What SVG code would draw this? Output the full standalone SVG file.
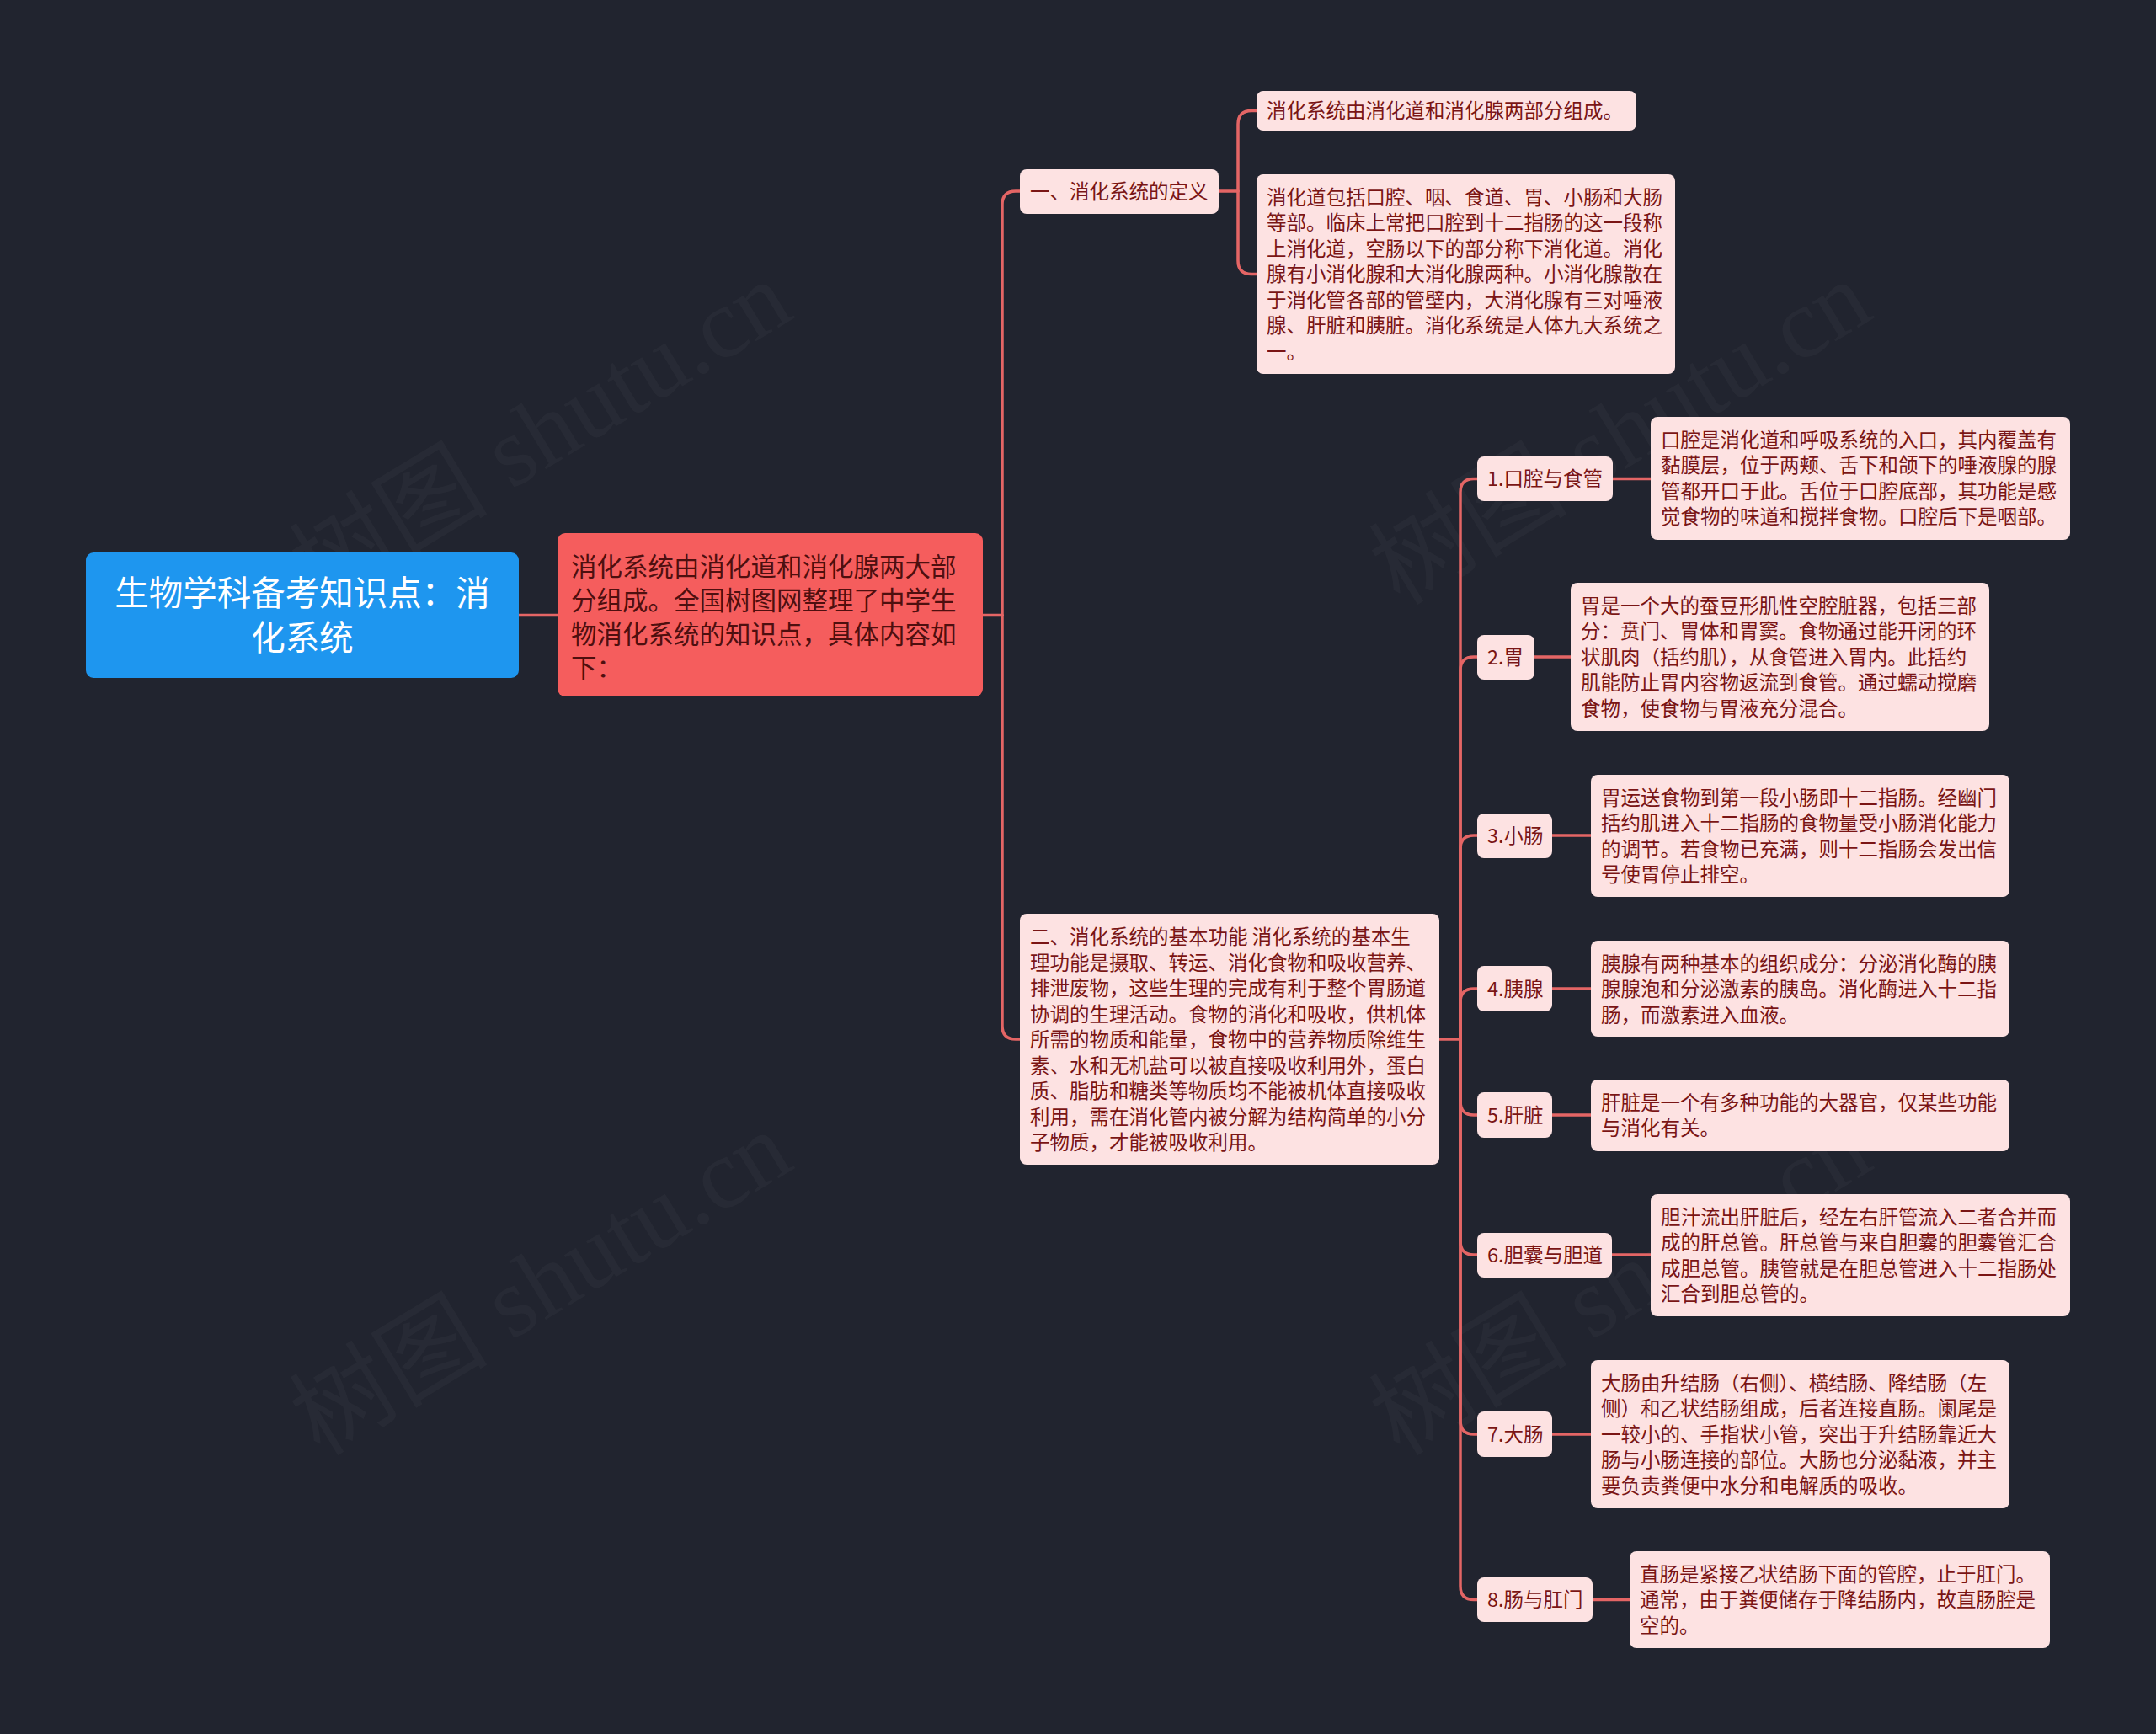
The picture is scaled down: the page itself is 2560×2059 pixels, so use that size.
<svg xmlns="http://www.w3.org/2000/svg" width="2560" height="2059" viewBox="0 0 2560 2059">
<style>
.bg{fill:#21242F}
.wm{font-family:"Liberation Serif","Noto Sans CJK SC",serif;font-size:118px;fill:#ffffff;fill-opacity:0.03}
.conn{fill:none;stroke:#E46565;stroke-width:3.5;stroke-linecap:round}
.root{fill:#1E96EF}
.main{fill:#F55D5D}
.sub{fill:#FDE2E2}
.t{font-family:"Noto Sans CJK SC","Noto Sans",sans-serif;font-size:23.5px;fill:#7A1515}
.tr{font-family:"Noto Sans CJK SC","Noto Sans",sans-serif;font-size:40.5px;fill:#ffffff;text-anchor:middle}
.tm{font-family:"Noto Sans CJK SC","Noto Sans",sans-serif;font-size:30.5px;fill:#4E0F0F}
</style>
<rect class="bg" x="0" y="0" width="2560" height="2059"/>
<g id="watermarks">
<text class="wm" x="380" y="720" transform="rotate(-31.3 380 720)">树图 shutu.cn</text>
<text class="wm" x="380" y="1730" transform="rotate(-31.3 380 1730)">树图 shutu.cn</text>
<text class="wm" x="1662" y="720" transform="rotate(-31.3 1662 720)">树图 shutu.cn</text>
<text class="wm" x="1662" y="1730" transform="rotate(-31.3 1662 1730)">树图 shutu.cn</text>
</g>
<g id="connectors">
<path class="conn" d="M616 730.5 H662"/>
<path class="conn" d="M1167 730.5 H1190"/>
<path class="conn" d="M1190 730.5 V243 Q1190 227 1206 227 H1211"/>
<path class="conn" d="M1190 730.5 V1218 Q1190 1234 1206 1234 H1211"/>
<path class="conn" d="M1447 227 H1470"/>
<path class="conn" d="M1470 227 V147.5 Q1470 131.5 1486 131.5 H1492"/>
<path class="conn" d="M1470 227 V309.5 Q1470 325.5 1486 325.5 H1492"/>
<path class="conn" d="M1709 1234 H1734"/>
<path class="conn" d="M1734 1234 V584.5 Q1734 568.5 1750 568.5 H1754"/>
<path class="conn" d="M1734 1234 V796 Q1734 780 1750 780 H1754"/>
<path class="conn" d="M1734 1234 V1008 Q1734 992 1750 992 H1754"/>
<path class="conn" d="M1734 1234 V1190 Q1734 1174 1750 1174 H1754"/>
<path class="conn" d="M1734 1234 V1308 Q1734 1324 1750 1324 H1754"/>
<path class="conn" d="M1734 1234 V1474 Q1734 1490 1750 1490 H1754"/>
<path class="conn" d="M1734 1234 V1687 Q1734 1703 1750 1703 H1754"/>
<path class="conn" d="M1734 1234 V1883.5 Q1734 1899.5 1750 1899.5 H1754"/>
<path class="conn" d="M1915 568.5 H1960"/>
<path class="conn" d="M1822 780 H1865"/>
<path class="conn" d="M1843 992 H1889"/>
<path class="conn" d="M1843 1174 H1889"/>
<path class="conn" d="M1843 1324 H1889"/>
<path class="conn" d="M1914 1490 H1960"/>
<path class="conn" d="M1843 1703 H1889"/>
<path class="conn" d="M1891 1899.5 H1935"/>
</g>
<g id="root">
<rect class="root" x="102" y="656" width="514" height="149" rx="9"/>
<text class="tr"><tspan x="359" y="719">生物学科备考知识点：消</tspan><tspan x="359" y="772">化系统</tspan></text>
</g>
<g id="main">
<rect class="main" x="662" y="633" width="505" height="194" rx="9"/>
<text class="tm"><tspan x="678" y="684">消化系统由消化道和消化腺两大部</tspan><tspan x="678" y="724">分组成。全国树图网整理了中学生</tspan><tspan x="678" y="764">物消化系统的知识点，具体内容如</tspan><tspan x="678" y="804">下：</tspan></text>
</g>
<g id="n1">
<rect class="sub" x="1211" y="201" width="236" height="53" rx="8"/>
<text class="t" x="1223" y="235.5">一、消化系统的定义</text>
</g>
<g id="n1a">
<rect class="sub" x="1492" y="108" width="451" height="47" rx="8"/>
<text class="t" x="1504" y="139.5">消化系统由消化道和消化腺两部分组成。</text>
</g>
<g id="n1b">
<rect class="sub" x="1492" y="207" width="497" height="237" rx="8"/>
<text class="t"><tspan x="1504" y="242.5">消化道包括口腔、咽、食道、胃、小肠和大肠</tspan><tspan x="1504" y="273">等部。临床上常把口腔到十二指肠的这一段称</tspan><tspan x="1504" y="303.5">上消化道，空肠以下的部分称下消化道。消化</tspan><tspan x="1504" y="334">腺有小消化腺和大消化腺两种。小消化腺散在</tspan><tspan x="1504" y="364.5">于消化管各部的管壁内，大消化腺有三对唾液</tspan><tspan x="1504" y="395">腺、肝脏和胰脏。消化系统是人体九大系统之</tspan><tspan x="1504" y="425.5">一。</tspan></text>
</g>
<g id="n2">
<rect class="sub" x="1211" y="1085" width="498" height="298" rx="8"/>
<text class="t"><tspan x="1223" y="1121">二、消化系统的基本功能 消化系统的基本生</tspan><tspan x="1223" y="1151.5">理功能是摄取、转运、消化食物和吸收营养、</tspan><tspan x="1223" y="1182">排泄废物，这些生理的完成有利于整个胃肠道</tspan><tspan x="1223" y="1212.5">协调的生理活动。食物的消化和吸收，供机体</tspan><tspan x="1223" y="1243">所需的物质和能量，食物中的营养物质除维生</tspan><tspan x="1223" y="1273.5">素、水和无机盐可以被直接吸收利用外，蛋白</tspan><tspan x="1223" y="1304">质、脂肪和糖类等物质均不能被机体直接吸收</tspan><tspan x="1223" y="1334.5">利用，需在消化管内被分解为结构简单的小分</tspan><tspan x="1223" y="1365">子物质，才能被吸收利用。</tspan></text>
</g>
<g id="i1">
<rect class="sub" x="1754" y="542" width="161" height="53" rx="8"/>
<text class="t" x="1766" y="577">1.口腔与食管</text>
</g>
<g id="d1">
<rect class="sub" x="1960" y="495" width="498" height="146" rx="8"/>
<text class="t"><tspan x="1972" y="530.5">口腔是消化道和呼吸系统的入口，其内覆盖有</tspan><tspan x="1972" y="561">黏膜层，位于两颊、舌下和颌下的唾液腺的腺</tspan><tspan x="1972" y="591.5">管都开口于此。舌位于口腔底部，其功能是感</tspan><tspan x="1972" y="622">觉食物的味道和搅拌食物。口腔后下是咽部。</tspan></text>
</g>
<g id="i2">
<rect class="sub" x="1754" y="754" width="68" height="53" rx="8"/>
<text class="t" x="1766" y="788.5">2.胃</text>
</g>
<g id="d2">
<rect class="sub" x="1865" y="692" width="497" height="176" rx="8"/>
<text class="t"><tspan x="1877" y="727.5">胃是一个大的蚕豆形肌性空腔脏器，包括三部</tspan><tspan x="1877" y="758">分：贲门、胃体和胃窦。食物通过能开闭的环</tspan><tspan x="1877" y="788.5">状肌肉（括约肌），从食管进入胃内。此括约</tspan><tspan x="1877" y="819">肌能防止胃内容物返流到食管。通过蠕动搅磨</tspan><tspan x="1877" y="849.5">食物，使食物与胃液充分混合。</tspan></text>
</g>
<g id="i3">
<rect class="sub" x="1754" y="966" width="89" height="53" rx="8"/>
<text class="t" x="1766" y="1000.5">3.小肠</text>
</g>
<g id="d3">
<rect class="sub" x="1889" y="920" width="497" height="145" rx="8"/>
<text class="t"><tspan x="1901" y="955.5">胃运送食物到第一段小肠即十二指肠。经幽门</tspan><tspan x="1901" y="986">括约肌进入十二指肠的食物量受小肠消化能力</tspan><tspan x="1901" y="1016.5">的调节。若食物已充满，则十二指肠会发出信</tspan><tspan x="1901" y="1047">号使胃停止排空。</tspan></text>
</g>
<g id="i4">
<rect class="sub" x="1754" y="1147" width="89" height="54" rx="8"/>
<text class="t" x="1766" y="1182.5">4.胰腺</text>
</g>
<g id="d4">
<rect class="sub" x="1889" y="1117" width="497" height="114" rx="8"/>
<text class="t"><tspan x="1901" y="1152.5">胰腺有两种基本的组织成分：分泌消化酶的胰</tspan><tspan x="1901" y="1183">腺腺泡和分泌激素的胰岛。消化酶进入十二指</tspan><tspan x="1901" y="1213.5">肠，而激素进入血液。</tspan></text>
</g>
<g id="i5">
<rect class="sub" x="1754" y="1297" width="89" height="54" rx="8"/>
<text class="t" x="1766" y="1332.5">5.肝脏</text>
</g>
<g id="d5">
<rect class="sub" x="1889" y="1282" width="497" height="85" rx="8"/>
<text class="t"><tspan x="1901" y="1317.5">肝脏是一个有多种功能的大器官，仅某些功能</tspan><tspan x="1901" y="1348">与消化有关。</tspan></text>
</g>
<g id="i6">
<rect class="sub" x="1754" y="1464" width="160" height="53" rx="8"/>
<text class="t" x="1766" y="1498.5">6.胆囊与胆道</text>
</g>
<g id="d6">
<rect class="sub" x="1960" y="1418" width="498" height="145" rx="8"/>
<text class="t"><tspan x="1972" y="1453.5">胆汁流出肝脏后，经左右肝管流入二者合并而</tspan><tspan x="1972" y="1484">成的肝总管。肝总管与来自胆囊的胆囊管汇合</tspan><tspan x="1972" y="1514.5">成胆总管。胰管就是在胆总管进入十二指肠处</tspan><tspan x="1972" y="1545">汇合到胆总管的。</tspan></text>
</g>
<g id="i7">
<rect class="sub" x="1754" y="1676" width="89" height="54" rx="8"/>
<text class="t" x="1766" y="1711.5">7.大肠</text>
</g>
<g id="d7">
<rect class="sub" x="1889" y="1615" width="497" height="176" rx="8"/>
<text class="t"><tspan x="1901" y="1650.5">大肠由升结肠（右侧）、横结肠、降结肠（左</tspan><tspan x="1901" y="1681">侧）和乙状结肠组成，后者连接直肠。阑尾是</tspan><tspan x="1901" y="1711.5">一较小的、手指状小管，突出于升结肠靠近大</tspan><tspan x="1901" y="1742">肠与小肠连接的部位。大肠也分泌黏液，并主</tspan><tspan x="1901" y="1772.5">要负责粪便中水分和电解质的吸收。</tspan></text>
</g>
<g id="i8">
<rect class="sub" x="1754" y="1873" width="137" height="53" rx="8"/>
<text class="t" x="1766" y="1907.5">8.肠与肛门</text>
</g>
<g id="d8">
<rect class="sub" x="1935" y="1842" width="499" height="115" rx="8"/>
<text class="t"><tspan x="1947" y="1877.5">直肠是紧接乙状结肠下面的管腔，止于肛门。</tspan><tspan x="1947" y="1908">通常，由于粪便储存于降结肠内，故直肠腔是</tspan><tspan x="1947" y="1938.5">空的。</tspan></text>
</g>
</svg>
